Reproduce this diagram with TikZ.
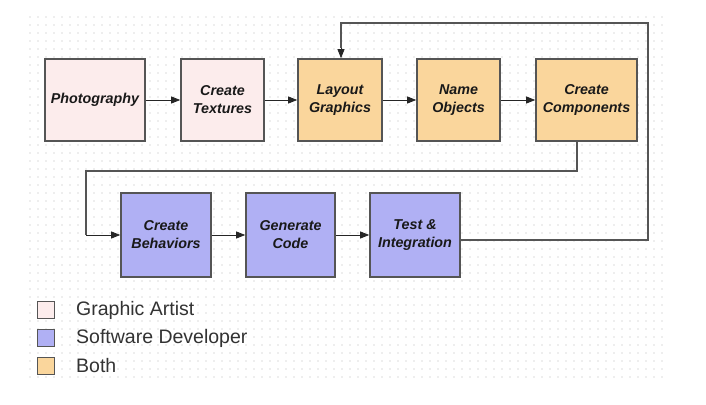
\documentclass[tikz,border=0pt]{standalone}
\usepackage{fontspec}
\setmainfont{Liberation Sans}
\usetikzlibrary{arrows.meta}
\definecolor{artist}{HTML}{FCECEC}
\definecolor{dev}{HTML}{B0B0F4}
\definecolor{both}{HTML}{FAD69C}
\definecolor{edge}{HTML}{555555}
\tikzset{
  stepbox/.style={draw=edge, line width=1.6pt, inner sep=0pt, font=\fontsize{14.3}{18}\selectfont\bfseries\itshape, align=center, text=black!90},
  flow/.style={draw=black!85, line width=0.8pt, -{Triangle[length=9pt,width=7pt]}},
  loop/.style={draw=edge, line width=1.4pt},
  legbox/.style={draw=edge, line width=1.2pt, minimum width=17pt, minimum height=17pt, inner sep=0pt},
  legtext/.style={anchor=west, font=\fontsize{19.5}{21}\selectfont, text=black!80, inner sep=0pt}
}
\begin{document}
\begin{tikzpicture}[x=1pt,y=-1pt]
\useasboundingbox (0,0) rectangle (706,404);
\fill[white] (0,0) rectangle (706,404);
% dotted grid
\foreach \i in {30,38,...,662} {
  \foreach \j in {17,25,...,378} {
    \fill[black!28] (\i,\j) circle (0.55pt);
  }
}
% row 1
\node[stepbox, fill=artist, minimum width=100pt, minimum height=82pt] (photo) at (95,100) {Photography};
\node[stepbox, fill=artist, minimum width=83pt, minimum height=82pt] (tex) at (222.5,100) {Create\\Textures};
\node[stepbox, fill=both, minimum width=84pt, minimum height=82pt] (layout) at (340,100) {Layout\\Graphics};
\node[stepbox, fill=both, minimum width=83pt, minimum height=82pt] (name) at (458.5,100) {Name\\Objects};
\node[stepbox, fill=both, minimum width=101pt, minimum height=82pt] (comp) at (586.5,100) {Create\\Components};
% row 2
\node[stepbox, fill=dev, minimum width=90pt, minimum height=84pt] (beh) at (166,235) {Create\\Behaviors};
\node[stepbox, fill=dev, minimum width=89pt, minimum height=84pt] (gen) at (290.5,235) {Generate\\Code};
\node[stepbox, fill=dev, minimum width=90pt, minimum height=84pt] (test) at (415,235) {Test \&\\Integration};
% connectors
\draw[flow] (photo) -- (tex);
\draw[flow] (tex) -- (layout);
\draw[flow] (layout) -- (name);
\draw[flow] (name) -- (comp);
\coordinate (c1) at (577,171);
\coordinate (c2) at (86,171);
\draw[loop] (comp.south -| c1) -- (c1) -- (c2) -- (c2 |- beh.west);
\draw[flow] (c2 |- beh.west) -- (beh.west);
\draw[flow] (beh) -- (gen);
\draw[flow] (gen) -- (test);
\coordinate (f1) at (648,240);
\coordinate (f2) at (648,23);
\coordinate (f3) at (341,23);
\coordinate (f4) at (341,48);
\draw[loop] (test.east |- f1) -- (f1) -- (f2) -- (f3) -- (f4);
\draw[flow] (f4) -- (f4 |- layout.north);
% legend
\node[legbox, fill=artist] (l1) at (46,310) {};
\node[legbox, fill=dev] (l2) at (46,338) {};
\node[legbox, fill=both] (l3) at (46,366) {};
\node[legtext] (t1) at (76,310) {Graphic Artist};
\node[legtext] (t2) at (76,338) {Software Developer};
\node[legtext] (t3) at (76,366) {Both};
\end{tikzpicture}
\end{document}
